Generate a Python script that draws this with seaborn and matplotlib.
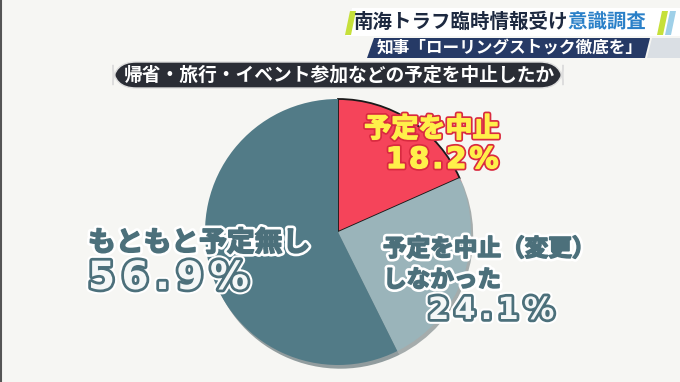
import matplotlib
matplotlib.use("Agg")
import matplotlib.pyplot as plt
import matplotlib.patheffects as pe
from matplotlib.patches import Polygon, FancyBboxPatch
from matplotlib.lines import Line2D
import seaborn as sns

# data
labels = ["予定を中止", "予定を中止（変更）\nしなかった", "もともと予定無し"]
values = [18.2, 24.1, 56.9]
colors = ["#f5445a", "#9ab4ba", "#527b87"]
title_main = "南海トラフ臨時情報受け"
title_blue = "意識調査"
sub_title = "知事「ローリングストック徹底を」"
question = "帰省・旅行・イベント参加などの予定を中止したか"

sns.set_style("white")
plt.rcParams['font.family'] = ['Noto Sans CJK JP', 'DejaVu Sans']

W, H = 680, 382
fig = plt.figure(figsize=(6.8, 3.82), dpi=100)
fig.patch.set_facecolor("#f6f6f3")


def fx(x):
    return x / W


def fy(y):
    return 1 - y / H


def poly(pts, color, z=1):
    fig.add_artist(Polygon([(fx(a), fy(b)) for a, b in pts], closed=True,
                           transform=fig.transFigure, facecolor=color,
                           edgecolor="none", zorder=z))


# header banners
poly([(352, 8), (680, 8), (680, 36), (346, 36)], "#ffffff")
poly([(350, 11), (356, 11), (351, 35), (345, 35)], "#c6e03a", 2)
poly([(662, 11), (668, 11), (663, 35), (657, 35)], "#c6e03a", 2)
poly([(670, 11), (676, 11), (671, 35), (665, 35)], "#9fd0e8", 2)
poly([(374, 38), (650, 38), (645, 58), (367, 58)], "#263a66", 2)
poly([(652, 38), (680, 38), (680, 58), (647, 58)], "#dadfe4", 2)

fig.text(fx(568), fy(22), title_main, ha="right", va="center", fontsize=14,
         fontweight="bold", color="#1d2940", zorder=5)
fig.text(fx(568), fy(22), title_blue, ha="left", va="center", fontsize=14,
         fontweight="bold", color="#2a80c8", zorder=5,
         path_effects=[pe.withStroke(linewidth=2, foreground="white")])
fig.text(fx(510), fy(48), sub_title, ha="center", va="center", fontsize=12,
         fontweight="bold", color="white", zorder=5)

# question pill
fig.add_artist(FancyBboxPatch((fx(113), fy(88)), fx(563) - fx(113), fy(62) - fy(88),
                              boxstyle="round,pad=0,rounding_size=0.034",
                              transform=fig.transFigure, facecolor="#2a2d35",
                              edgecolor="#dddddd", linewidth=1, zorder=3,
                              mutation_aspect=W / H))
fig.text(fx(339), fy(75), question, ha="center", va="center", fontsize=13.5,
         fontweight="bold", color="white", zorder=5)

fig.add_artist(Line2D([fx(1), fx(1)], [0, 1], color="#555555", lw=1.5))

# pie
r = 133 * 1.1
ax = fig.add_axes([fx(338 - r), (H - 232 - r) / H, 2 * r / W, 2 * r / H])
wedges, _ = ax.pie(values, colors=colors, startangle=90, counterclock=False,
                   wedgeprops=dict(linewidth=0),
                   shadow={"ox": 0.012, "oy": -0.02, "shade": 0.45})
wedges[0].set_edgecolor("#1a1a1a")
wedges[0].set_linewidth(1.3)
ax.set_xlim(-1.1, 1.1)
ax.set_ylim(-1.1, 1.1)
ax.set_aspect("equal")
ax.axis("off")

# labels
teal = "#4c707b"
gaps = ["\u200a", "\u2006", "\u2006"]
pct = [g.join(f"{v}%") for g, v in zip(gaps, values)]

red_fx = [pe.Stroke(linewidth=3.5, foreground="#d92a40"),
          pe.Stroke(linewidth=1, foreground="#fff04a"), pe.Normal()]
teal_fx = [pe.Stroke(linewidth=5, foreground="white"),
           pe.Stroke(linewidth=1.2, foreground=teal), pe.Normal()]
num_fx = [pe.Stroke(linewidth=7, foreground="white"),
          pe.Stroke(linewidth=4, foreground=teal), pe.Normal()]

fig.text(fx(432), fy(137), labels[0], ha="center", va="baseline", fontsize=19.5,
         fontweight="bold", color="#fff04a", path_effects=red_fx, zorder=6)
fig.text(fx(442), fy(168), pct[0], ha="center", va="baseline", fontsize=21,
         fontweight="bold", color="#fff04a", family=["DejaVu Sans"],
         path_effects=red_fx, zorder=6)

l1, l2 = labels[1].split("\n")
fig.text(fx(383), fy(256), l1, ha="left", va="baseline", fontsize=17,
         fontweight="bold", color=teal, path_effects=teal_fx, zorder=6)
fig.text(fx(383), fy(287), l2, ha="left", va="baseline", fontsize=17,
         fontweight="bold", color=teal, path_effects=teal_fx, zorder=6)
fig.text(fx(428), fy(319), pct[1], ha="left", va="baseline", fontsize=22,
         fontweight="bold", color="#f4f7f7", family=["DejaVu Sans"],
         path_effects=num_fx, zorder=6)

fig.text(fx(88), fy(251), labels[2], ha="left", va="baseline", fontsize=20,
         fontweight="bold", color=teal, path_effects=teal_fx, zorder=6)
fig.text(fx(88), fy(289), pct[2], ha="left", va="baseline", fontsize=28,
         fontweight="bold", color="#f4f7f7", family=["DejaVu Sans"],
         path_effects=num_fx, zorder=6)

fig.savefig("out.png", dpi=100, facecolor=fig.get_facecolor())
